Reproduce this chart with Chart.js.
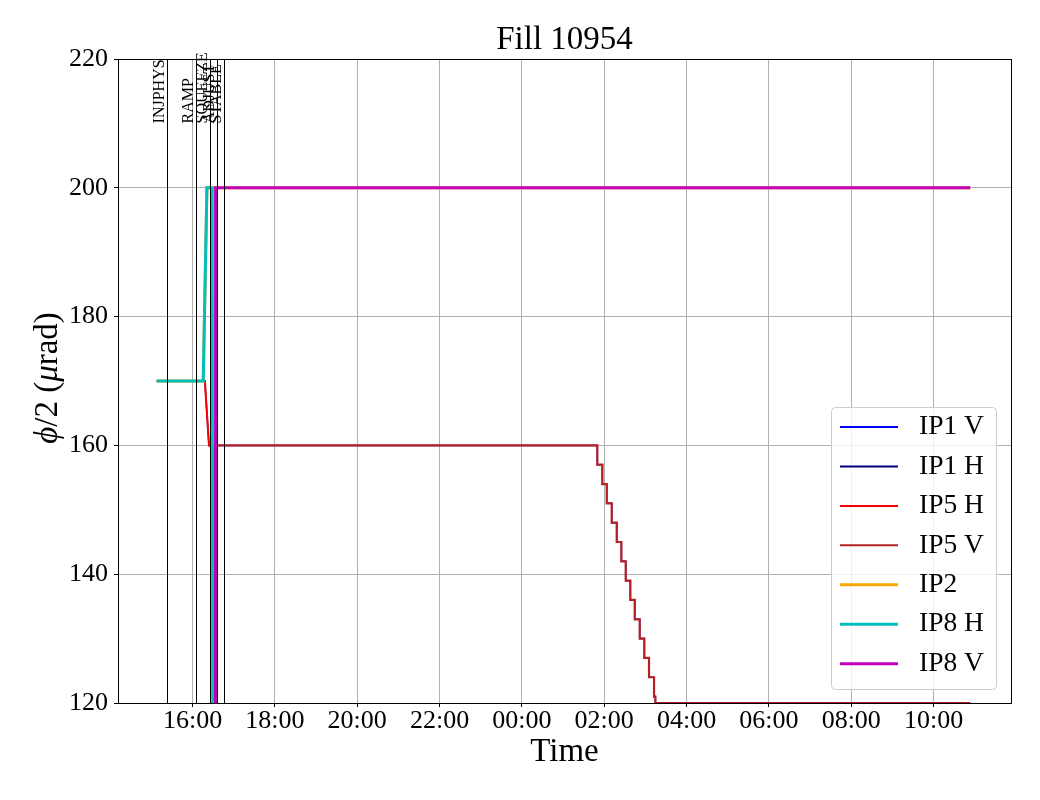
<!DOCTYPE html>
<html>
<head>
<meta charset="utf-8">
<script src="https://cdn.jsdelivr.net/npm/chart.js@4.4.1/dist/chart.umd.min.js"></script>
<style>
  html, body { margin: 0; padding: 0; background: #fff; }
  canvas { display: block; }
</style>
</head>
<body>
<canvas id="myChart" width="1040" height="800"></canvas>
<script>
// times are hours from midnight of the first day (24 = 00:00 next day)
const seriesNames = ['IP1 V', 'IP1 H', 'IP5 H', 'IP5 V', 'IP2', 'IP8 H', 'IP8 V'];
const seriesColors = ['#0000ff', '#000080', '#ff0000', '#b22222', '#ffa500', '#00bfbf', '#bf00bf'];

// horizontal crossing IP1/IP5
const hTimes = [15.13, 16.30, 16.40, 16.52, 16.54, 34.89];
const ip1hValues = [170, 170, 160, 160, 0, 0];
const ip5hValues = [170, 170, 160, 160, 0, 0];

// vertical crossing IP1/IP5 (levelling steps after 02:00)
const vTimes = [15.13, 16.56, 25.832, 25.954, 26.061, 26.182, 26.304, 26.416, 26.522,
                26.634, 26.741, 26.862, 26.974, 27.088, 27.210, 27.242, 34.89];
const ip1vValues = [0, 160, 157, 154, 151, 148, 145, 142, 139, 136, 133, 130, 127, 124, 121, 120, 120];
const ip5vValues = [0, 160, 157, 154, 151, 148, 145, 142, 139, 136, 133, 130, 127, 124, 121, 120, 120];

// IP2 / IP8
const ip8hTimes = [15.13, 16.26, 16.35, 16.48, 16.50, 34.89];
const ip2Values = [170, 170, 200, 200, 200, 200];
const ip8hValues = [170, 170, 200, 200, 0, 0];
const ip8vTimes = [15.13, 16.55, 16.56, 34.89];
const ip8vValues = [0, 0, 200, 200];

// beam modes
const modeTimes = [15.383, 16.08, 16.42, 16.603, 16.753];
const modeLabels = ['INJPHYS', 'RAMP', 'SQUEEZE', 'ADJUST', 'STABLE'];

const tickHours = [16, 18, 20, 22, 24, 26, 28, 30, 32, 34];
const tickLabels = ['16:00', '18:00', '20:00', '22:00', '00:00', '02:00', '04:00', '06:00', '08:00', '10:00'];
const yTicks = [120, 140, 160, 180, 200, 220];

const seriesTimes = [vTimes, hTimes, hTimes, vTimes, ip8hTimes, ip8hTimes, ip8vTimes];
const seriesValues = [ip1vValues, ip1hValues, ip5hValues, ip5vValues, ip2Values, ip8hValues, ip8vValues];
const seriesWidths = [1.5, 1.5, 2, 2.2, 3, 3, 3];
const legendWidths = [2, 2, 2, 2, 3, 3, 3];
const seriesStepped = [true, false, false, true, false, false, false];

const FONT = '"Liberation Serif", "Times New Roman", serif';
Chart.defaults.font.family = FONT;
Chart.defaults.color = '#000';

const datasets = seriesNames.map((name, i) => ({
    label: name,
    data: seriesTimes[i].map((t, j) => ({ x: t, y: seriesValues[i][j] })),
    borderColor: seriesColors[i],
    backgroundColor: seriesColors[i],
    borderWidth: seriesWidths[i],
    stepped: seriesStepped[i],
    pointRadius: 0,
    tension: 0,
    fill: false,
    clip: 0,
    order: seriesNames.length - i
}));

// beam mode lines + labels, full box frame
const modeLines = {
    id: 'modeLines',
    afterDatasetsDraw(chart) {
        const { ctx, chartArea, scales } = chart;
        ctx.save();
        ctx.strokeStyle = '#000';
        ctx.lineWidth = 1;
        modeTimes.forEach((t, i) => {
            const px = Math.round(scales.x.getPixelForValue(t)) + 0.5;
            ctx.beginPath();
            ctx.moveTo(px, chartArea.top);
            ctx.lineTo(px, chartArea.bottom);
            ctx.stroke();
            ctx.save();
            ctx.translate(px - 4, scales.y.getPixelForValue(210));
            ctx.rotate(-Math.PI / 2);
            ctx.font = '16px ' + FONT;
            ctx.fillStyle = '#000';
            ctx.textAlign = 'left';
            ctx.textBaseline = 'alphabetic';
            ctx.fillText(modeLabels[i], 0, 0);
            ctx.restore();
        });
        ctx.strokeRect(Math.round(chartArea.left) + 0.5, Math.round(chartArea.top) + 0.5,
            Math.round(chartArea.right - chartArea.left), Math.round(chartArea.bottom - chartArea.top));
        ctx.restore();
    }
};

// legend in lower right corner of the axes
const legendBox = {
    id: 'legendBox',
    afterDraw(chart) {
        const { ctx, chartArea } = chart;
        const w = 165, h = 282;
        const x0 = Math.round(chartArea.right - 15 - w);
        const y0 = Math.round(chartArea.bottom - 14 - h);
        ctx.save();
        ctx.beginPath();
        ctx.roundRect(x0 + 0.5, y0 + 0.5, w, h, 4);
        ctx.fillStyle = 'rgba(255,255,255,0.8)';
        ctx.fill();
        ctx.strokeStyle = '#cccccc';
        ctx.lineWidth = 1;
        ctx.stroke();
        ctx.font = '27.5px ' + FONT;
        ctx.textBaseline = 'middle';
        ctx.textAlign = 'left';
        chart.data.datasets.forEach((ds, i) => {
            const y = y0 + 20 + i * 39.45;
            ctx.strokeStyle = ds.borderColor;
            ctx.lineWidth = legendWidths[i];
            ctx.beginPath();
            ctx.moveTo(x0 + 9, y);
            ctx.lineTo(x0 + 67, y);
            ctx.stroke();
            ctx.fillStyle = '#000';
            ctx.fillText(ds.label, x0 + 88, y);
        });
        ctx.restore();
    }
};

// y axis title with italic greek letters
const yTitle = {
    id: 'yTitle',
    afterDraw(chart) {
        const { ctx, chartArea } = chart;
        const parts = [['\u03d5', true], ['/2 (', false], ['\u03bc', true], ['rad)', false]];
        const fontOf = (it) => (it ? 'italic ' : '') + '33px ' + FONT;
        ctx.save();
        ctx.translate(chartArea.left - 61, (chartArea.top + chartArea.bottom) / 2 - 3);
        ctx.rotate(-Math.PI / 2);
        let total = 0;
        parts.forEach((p) => { ctx.font = fontOf(p[1]); total += ctx.measureText(p[0]).width; });
        let cx = -total / 2;
        ctx.fillStyle = '#000';
        ctx.textBaseline = 'alphabetic';
        ctx.textAlign = 'left';
        parts.forEach((p) => {
            ctx.font = fontOf(p[1]);
            ctx.fillText(p[0], cx, 0);
            cx += ctx.measureText(p[0]).width;
        });
        ctx.restore();
    }
};

new Chart(document.getElementById('myChart'), {
    type: 'line',
    data: { datasets },
    options: {
        responsive: false,
        devicePixelRatio: 1,
        animation: false,
        layout: { padding: { left: 0, right: 29, top: 0, bottom: 0 } },
        plugins: {
            legend: { display: false },
            tooltip: { enabled: false },
            title: {
                display: true,
                fullSize: false,
                text: 'Fill 10954',
                color: '#000',
                font: { size: 33, weight: 'normal', lineHeight: 1 },
                padding: { top: 24, bottom: 2 }
            }
        },
        scales: {
            x: {
                type: 'linear',
                min: 14.19,
                max: 35.88,
                afterFit: (scale) => { scale.height = 97; },
                afterBuildTicks: (scale) => { scale.ticks = tickHours.map((v) => ({ value: v })); },
                ticks: {
                    font: { size: 26, lineHeight: 1 },
                    padding: 1,
                    maxRotation: 0,
                    autoSkip: false,
                    callback: (v, i) => tickLabels[i]
                },
                grid: { color: '#b0b0b0', lineWidth: 1, tickLength: 4, tickColor: '#000' },
                border: { color: '#000', width: 1 },
                title: {
                    display: true,
                    text: 'Time',
                    font: { size: 33, lineHeight: 1 },
                    padding: { top: 0, bottom: 31 }
                }
            },
            y: {
                min: 120,
                max: 220,
                afterFit: (scale) => { scale.width = 118; },
                afterBuildTicks: (scale) => { scale.ticks = yTicks.map((v) => ({ value: v })); },
                ticks: { font: { size: 26, lineHeight: 1 }, padding: 6 },
                grid: { color: '#b0b0b0', lineWidth: 1, tickLength: 4, tickColor: '#000' },
                border: { color: '#000', width: 1 }
            }
        }
    },
    plugins: [modeLines, legendBox, yTitle]
});
</script>
</body>
</html>
